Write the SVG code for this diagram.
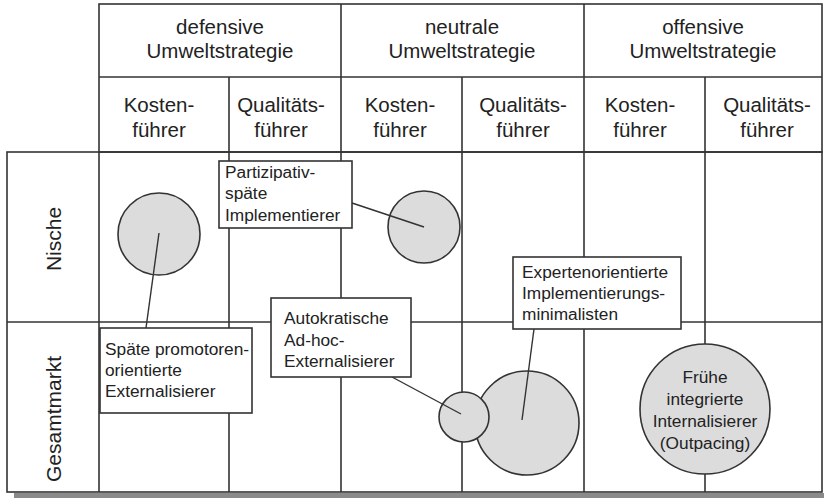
<svg xmlns="http://www.w3.org/2000/svg" width="824" height="498" viewBox="0 0 824 498">
<style>
.grid{stroke:#333;stroke-width:1.6;fill:none}
.box{fill:#fff;stroke:#333;stroke-width:1.6}
.circ{fill:#dcdcdc;stroke:#333;stroke-width:1.6}
.conn{stroke:#333;stroke-width:1.4;fill:none}
text{font-family:"Liberation Sans",Arial,sans-serif;fill:#222}
.h{font-size:20.5px;text-anchor:middle}
.r{font-size:21px;text-anchor:middle}
.t{font-size:17.3px}
.c{font-size:17.3px;text-anchor:middle}
</style>
<rect width="824" height="498" fill="#fff"/>
<rect x="14" y="493" width="810" height="5" fill="#8a8a8a"/>
<g id="grid" class="grid">
<rect x="99" y="4" width="723" height="148"/>
<line x1="99" y1="77" x2="822" y2="77"/>
<line x1="341" y1="4" x2="341" y2="152"/>
<line x1="584" y1="4" x2="584" y2="152"/>
<line x1="229" y1="77" x2="229" y2="152"/>
<line x1="462" y1="77" x2="462" y2="152"/>
<line x1="705" y1="77" x2="705" y2="152"/>
<rect x="7" y="152" width="815" height="340"/>
<line x1="7" y1="322" x2="822" y2="322"/>
<line x1="99" y1="152" x2="99" y2="492"/>
<line x1="229" y1="152" x2="229" y2="492"/>
<line x1="341" y1="152" x2="341" y2="492"/>
<line x1="462" y1="152" x2="462" y2="492"/>
<line x1="584" y1="152" x2="584" y2="492"/>
<line x1="705" y1="152" x2="705" y2="492"/>
</g>
<g id="headers">
<text class="h" x="220" y="34">defensive</text>
<text class="h" x="220" y="58">Umweltstrategie</text>
<text class="h" x="462" y="34">neutrale</text>
<text class="h" x="462" y="58">Umweltstrategie</text>
<text class="h" x="703" y="34">offensive</text>
<text class="h" x="703" y="58">Umweltstrategie</text>
<text class="h" x="159" y="112">Kosten-</text>
<text class="h" x="159" y="137">führer</text>
<text class="h" x="281" y="112">Qualitäts-</text>
<text class="h" x="281" y="137">führer</text>
<text class="h" x="400" y="112">Kosten-</text>
<text class="h" x="400" y="137">führer</text>
<text class="h" x="523" y="112">Qualitäts-</text>
<text class="h" x="523" y="137">führer</text>
<text class="h" x="640" y="112">Kosten-</text>
<text class="h" x="640" y="137">führer</text>
<text class="h" x="767" y="112">Qualitäts-</text>
<text class="h" x="767" y="137">führer</text>
<text class="r" transform="translate(61,239) rotate(-90)">Nische</text>
<text class="r" transform="translate(61,419) rotate(-90)">Gesamtmarkt</text>
</g>
<g id="circle-def-nische"><circle class="circ" cx="159" cy="234" r="41"/></g>
<g id="circle-neu-nische"><circle class="circ" cx="424" cy="227" r="36"/></g>
<g id="circle-experten"><circle class="circ" cx="527" cy="423" r="52"/></g>
<g id="circle-autokratisch"><circle class="circ" cx="464" cy="417" r="25"/></g>
<g id="connectors" class="conn">
<line x1="159" y1="233" x2="146" y2="328"/>
<line x1="352" y1="203" x2="424" y2="227"/>
<line x1="392" y1="377" x2="461" y2="414"/>
<line x1="534" y1="329" x2="522" y2="420"/>
</g>
<g id="box-partizipativ">
<rect class="box" x="219" y="161" width="133" height="67"/>
<text class="t" x="225" y="178">Partizipativ-</text>
<text class="t" x="225" y="199">späte</text>
<text class="t" x="225" y="221">Implementierer</text>
</g>
<g id="box-spaete">
<rect class="box" x="100" y="328" width="152" height="85"/>
<text class="t" x="105" y="355">Späte promotoren-</text>
<text class="t" x="105" y="376">orientierte</text>
<text class="t" x="105" y="397">Externalisierer</text>
</g>
<g id="box-autokratisch">
<rect class="box" x="271" y="298" width="140" height="79"/>
<text class="t" x="284" y="324">Autokratische</text>
<text class="t" x="284" y="346">Ad-hoc-</text>
<text class="t" x="284" y="367">Externalisierer</text>
</g>
<g id="box-experten">
<rect class="box" x="513" y="257" width="168" height="72"/>
<text class="t" x="522" y="278">Expertenorientierte</text>
<text class="t" x="522" y="299">Implementierungs-</text>
<text class="t" x="522" y="320">minimalisten</text>
</g>
<g id="circle-fruehe">
<circle class="circ" cx="705" cy="409" r="65"/>
<text class="c" x="705" y="383">Frühe</text>
<text class="c" x="705" y="405">integrierte</text>
<text class="c" x="705" y="427">Internalisierer</text>
<text class="c" x="705" y="449">(Outpacing)</text>
</g>
</svg>
